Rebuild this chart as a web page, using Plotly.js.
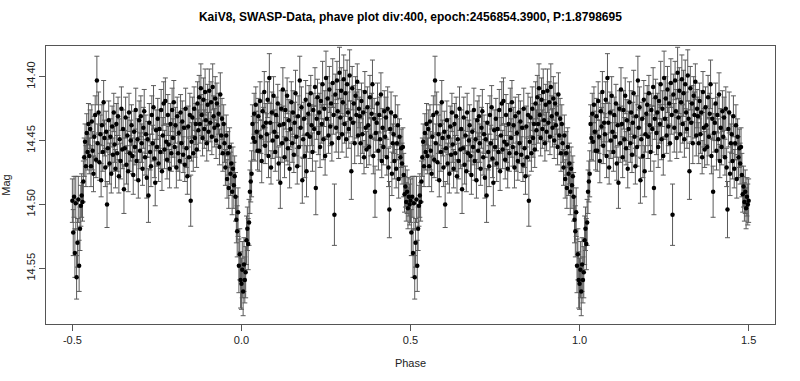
<!DOCTYPE html>
<html>
<head>
<meta charset="utf-8">
<script src="https://cdn.plot.ly/plotly-3.0.1.min.js"></script>
<style>html,body{margin:0;padding:0;background:#fff;}#chart{width:800px;height:381px;}</style>
</head>
<body>
<div id="chart"></div>
<script>
// Phase of each bin (one cycle, 0..1)
const phase = [
0.0000,0.0025,0.0050,0.0075,0.0100,0.0125,0.0150,0.0175,0.0200,0.0225,
0.0250,0.0275,0.0300,0.0325,0.0350,0.0375,0.0400,0.0425,0.0450,0.0475,
0.0500,0.0525,0.0550,0.0575,0.0600,0.0625,0.0650,0.0675,0.0700,0.0725,
0.0750,0.0775,0.0800,0.0825,0.0850,0.0875,0.0900,0.0925,0.0950,0.0975,
0.1000,0.1025,0.1050,0.1075,0.1100,0.1125,0.1150,0.1175,0.1200,0.1225,
0.1250,0.1275,0.1300,0.1325,0.1350,0.1375,0.1400,0.1425,0.1450,0.1475,
0.1500,0.1525,0.1550,0.1575,0.1600,0.1625,0.1650,0.1675,0.1700,0.1725,
0.1750,0.1775,0.1800,0.1825,0.1850,0.1875,0.1900,0.1925,0.1950,0.1975,
0.2000,0.2025,0.2050,0.2075,0.2100,0.2125,0.2150,0.2175,0.2200,0.2225,
0.2250,0.2275,0.2300,0.2325,0.2350,0.2375,0.2400,0.2425,0.2450,0.2475,
0.2500,0.2525,0.2550,0.2575,0.2600,0.2625,0.2650,0.2675,0.2700,0.2725,
0.2750,0.2775,0.2800,0.2825,0.2850,0.2875,0.2900,0.2925,0.2950,0.2975,
0.3000,0.3025,0.3050,0.3075,0.3100,0.3125,0.3150,0.3175,0.3200,0.3225,
0.3250,0.3275,0.3300,0.3325,0.3350,0.3375,0.3400,0.3425,0.3450,0.3475,
0.3500,0.3525,0.3550,0.3575,0.3600,0.3625,0.3650,0.3675,0.3700,0.3725,
0.3750,0.3775,0.3800,0.3825,0.3850,0.3875,0.3900,0.3925,0.3950,0.3975,
0.4000,0.4025,0.4050,0.4075,0.4100,0.4125,0.4150,0.4175,0.4200,0.4225,
0.4250,0.4275,0.4300,0.4325,0.4350,0.4375,0.4400,0.4425,0.4450,0.4475,
0.4500,0.4525,0.4550,0.4575,0.4600,0.4625,0.4650,0.4675,0.4700,0.4725,
0.4750,0.4775,0.4800,0.4825,0.4850,0.4875,0.4900,0.4925,0.4950,0.4975,
0.5000,0.5025,0.5050,0.5075,0.5100,0.5125,0.5150,0.5175,0.5200,0.5225,
0.5250,0.5275,0.5300,0.5325,0.5350,0.5375,0.5400,0.5425,0.5450,0.5475,
0.5500,0.5525,0.5550,0.5575,0.5600,0.5625,0.5650,0.5675,0.5700,0.5725,
0.5750,0.5775,0.5800,0.5825,0.5850,0.5875,0.5900,0.5925,0.5950,0.5975,
0.6000,0.6025,0.6050,0.6075,0.6100,0.6125,0.6150,0.6175,0.6200,0.6225,
0.6250,0.6275,0.6300,0.6325,0.6350,0.6375,0.6400,0.6425,0.6450,0.6475,
0.6500,0.6525,0.6550,0.6575,0.6600,0.6625,0.6650,0.6675,0.6700,0.6725,
0.6750,0.6775,0.6800,0.6825,0.6850,0.6875,0.6900,0.6925,0.6950,0.6975,
0.7000,0.7025,0.7050,0.7075,0.7100,0.7125,0.7150,0.7175,0.7200,0.7225,
0.7250,0.7275,0.7300,0.7325,0.7350,0.7375,0.7400,0.7425,0.7450,0.7475,
0.7500,0.7525,0.7550,0.7575,0.7600,0.7625,0.7650,0.7675,0.7700,0.7725,
0.7750,0.7775,0.7800,0.7825,0.7850,0.7875,0.7900,0.7925,0.7950,0.7975,
0.8000,0.8025,0.8050,0.8075,0.8100,0.8125,0.8150,0.8175,0.8200,0.8225,
0.8250,0.8275,0.8300,0.8325,0.8350,0.8375,0.8400,0.8425,0.8450,0.8475,
0.8500,0.8525,0.8550,0.8575,0.8600,0.8625,0.8650,0.8675,0.8700,0.8725,
0.8750,0.8775,0.8800,0.8825,0.8850,0.8875,0.8900,0.8925,0.8950,0.8975,
0.9000,0.9025,0.9050,0.9075,0.9100,0.9125,0.9150,0.9175,0.9200,0.9225,
0.9250,0.9275,0.9300,0.9325,0.9350,0.9375,0.9400,0.9425,0.9450,0.9475,
0.9500,0.9525,0.9550,0.9575,0.9600,0.9625,0.9650,0.9675,0.9700,0.9725,
0.9750,0.9775,0.9800,0.9825,0.9850,0.9875,0.9900,0.9925,0.9950,0.9975
];

// Mean magnitude per bin
const mag = [
14.562,14.551,14.568,14.547,14.559,14.553,14.528,14.519,14.531,14.514,
14.490,14.482,14.476,14.437,14.448,14.429,14.451,14.422,14.443,14.458,
14.431,14.458,14.419,14.447,14.466,14.427,14.439,14.412,14.454,14.436,
14.445,14.418,14.462,14.401,14.436,14.471,14.428,14.450,14.415,14.443,
14.459,14.430,14.447,14.421,14.468,14.438,14.483,14.425,14.452,14.410,
14.437,14.463,14.426,14.449,14.415,14.456,14.434,14.472,14.441,14.420,
14.452,14.428,14.461,14.436,14.413,14.447,14.470,14.431,14.455,14.403,
14.440,14.424,14.481,14.449,14.433,14.462,14.418,14.474,14.445,14.429,
14.422,14.447,14.413,14.438,14.459,14.426,14.441,14.408,14.487,14.433,
14.416,14.444,14.428,14.455,14.419,14.437,14.406,14.449,14.425,14.462,
14.401,14.433,14.417,14.446,14.410,14.439,14.421,14.452,14.405,14.430,
14.508,14.414,14.440,14.403,14.427,14.448,14.397,14.432,14.411,14.445,
14.420,14.402,14.437,14.413,14.449,14.406,14.428,14.441,14.399,14.433,
14.474,14.409,14.436,14.421,14.452,14.415,14.430,14.404,14.446,14.425,
14.431,14.452,14.419,14.445,14.428,14.463,14.412,14.440,14.457,14.424,
14.438,14.455,14.416,14.447,14.429,14.406,14.462,14.433,14.490,14.444,
14.436,14.421,14.458,14.430,14.449,14.414,14.466,14.440,14.455,14.427,
14.447,14.432,14.463,14.425,14.471,14.504,14.441,14.428,14.476,14.452,
14.445,14.466,14.431,14.472,14.452,14.438,14.480,14.447,14.463,14.456,
14.468,14.455,14.477,14.492,14.486,14.498,14.490,14.503,14.494,14.500,
14.497,14.522,14.494,14.538,14.499,14.557,14.530,14.496,14.548,14.519,
14.501,14.493,14.498,14.482,14.463,14.451,14.470,14.444,14.459,14.437,
14.462,14.441,14.470,14.435,14.458,14.476,14.447,14.430,14.465,14.403,
14.452,14.428,14.467,14.445,14.481,14.438,14.459,14.420,14.448,14.471,
14.443,14.500,14.456,14.434,14.468,14.447,14.476,14.439,14.461,14.428,
14.453,14.472,14.437,14.460,14.431,14.478,14.449,14.466,14.425,14.457,
14.441,14.488,14.456,14.432,14.469,14.446,14.474,14.428,14.460,14.450,
14.438,14.462,14.477,14.443,14.455,14.426,14.466,14.449,14.481,14.434,
14.458,14.431,14.452,14.472,14.440,14.427,14.463,14.445,14.479,14.449,
14.493,14.436,14.459,14.470,14.430,14.452,14.424,14.464,14.483,14.442,
14.455,14.433,14.468,14.441,14.459,14.426,14.474,14.446,14.421,14.457,
14.419,14.451,14.465,14.430,14.453,14.472,14.437,14.460,14.426,14.448,
14.420,14.455,14.438,14.471,14.431,14.460,14.444,14.466,14.428,14.452,
14.435,14.461,14.440,14.469,14.425,14.456,14.478,14.439,14.463,14.430,
14.497,14.451,14.432,14.460,14.425,14.448,14.437,14.457,14.421,14.442,
14.416,14.437,14.409,14.430,14.448,14.418,14.441,14.412,14.434,14.452,
14.422,14.443,14.411,14.436,14.420,14.447,14.408,14.431,14.440,14.417,
14.450,14.421,14.438,14.429,14.455,14.414,14.446,14.433,14.460,14.437,
14.452,14.471,14.446,14.480,14.460,14.487,14.455,14.476,14.468,14.490,
14.472,14.485,14.478,14.494,14.512,14.521,14.506,14.548,14.539,14.559
];

// Error (half length of error bar) per bin
const err = [
0.020,0.022,0.019,0.021,0.018,0.020,0.019,0.017,0.020,0.018,
0.017,0.016,0.018,0.015,0.017,0.016,0.015,0.014,0.016,0.015,
0.014,0.016,0.015,0.013,0.017,0.014,0.015,0.016,0.014,0.015,
0.016,0.014,0.017,0.019,0.015,0.013,0.016,0.014,0.015,0.017,
0.015,0.014,0.016,0.015,0.013,0.016,0.020,0.014,0.015,0.017,
0.014,0.016,0.015,0.017,0.014,0.013,0.016,0.015,0.014,0.016,
0.015,0.017,0.014,0.016,0.018,0.015,0.014,0.016,0.015,0.019,
0.014,0.016,0.018,0.015,0.013,0.017,0.015,0.020,0.014,0.016,
0.015,0.017,0.014,0.016,0.015,0.013,0.018,0.015,0.021,0.016,
0.014,0.017,0.015,0.016,0.014,0.015,0.018,0.016,0.014,0.015,
0.021,0.016,0.017,0.014,0.018,0.015,0.016,0.014,0.019,0.015,
0.024,0.016,0.019,0.015,0.017,0.016,0.020,0.015,0.018,0.014,
0.017,0.019,0.015,0.018,0.014,0.019,0.016,0.015,0.020,0.014,
0.022,0.017,0.015,0.014,0.016,0.015,0.018,0.014,0.016,0.015,
0.015,0.016,0.014,0.015,0.017,0.013,0.016,0.015,0.014,0.016,
0.015,0.014,0.017,0.015,0.016,0.019,0.014,0.016,0.020,0.015,
0.014,0.016,0.015,0.014,0.016,0.017,0.013,0.015,0.014,0.016,
0.015,0.016,0.014,0.017,0.015,0.022,0.014,0.016,0.017,0.015,
0.015,0.014,0.016,0.015,0.013,0.016,0.015,0.014,0.016,0.015,
0.016,0.015,0.017,0.014,0.016,0.015,0.017,0.016,0.015,0.016,
0.017,0.018,0.016,0.019,0.021,0.017,0.019,0.018,0.020,0.017,
0.016,0.017,0.015,0.016,0.015,0.014,0.016,0.015,0.014,0.016,
0.014,0.015,0.016,0.013,0.015,0.014,0.016,0.015,0.014,0.019,
0.015,0.016,0.014,0.015,0.013,0.016,0.015,0.017,0.014,0.015,
0.016,0.018,0.014,0.015,0.016,0.014,0.015,0.016,0.013,0.015,
0.014,0.015,0.016,0.014,0.015,0.013,0.016,0.014,0.017,0.015,
0.015,0.019,0.014,0.016,0.015,0.014,0.016,0.015,0.014,0.016,
0.016,0.014,0.015,0.016,0.014,0.017,0.015,0.016,0.014,0.015,
0.014,0.016,0.015,0.013,0.016,0.017,0.014,0.015,0.016,0.014,
0.021,0.015,0.014,0.016,0.015,0.014,0.017,0.015,0.018,0.016,
0.015,0.016,0.014,0.015,0.013,0.016,0.015,0.014,0.017,0.015,
0.018,0.014,0.015,0.016,0.014,0.015,0.016,0.014,0.017,0.015,
0.017,0.015,0.014,0.016,0.015,0.014,0.016,0.015,0.014,0.016,
0.016,0.014,0.015,0.013,0.016,0.015,0.014,0.016,0.015,0.017,
0.020,0.015,0.016,0.014,0.017,0.015,0.016,0.014,0.017,0.016,
0.017,0.015,0.019,0.016,0.014,0.017,0.015,0.018,0.016,0.014,
0.016,0.015,0.017,0.015,0.016,0.014,0.018,0.016,0.015,0.017,
0.014,0.016,0.015,0.016,0.014,0.017,0.015,0.016,0.014,0.015,
0.015,0.014,0.016,0.015,0.017,0.016,0.015,0.017,0.016,0.018,
0.017,0.018,0.016,0.019,0.018,0.020,0.019,0.021,0.020,0.022
];

const xTickVals = [-0.5, 0.0, 0.5, 1.0, 1.5];
const xTickText = ["-0.5", "0.0", "0.5", "1.0", "1.5"];
const yTickVals = [14.40, 14.45, 14.50, 14.55];
const yTickText = ["14.40", "14.45", "14.50", "14.55"];

// Phase plot shows the cycle folded over -0.5 .. 1.5
const xs = [], ys = [], es = [];
for (let i = 0; i < phase.length; i++) {
  if (phase[i] >= 0.5) { xs.push(phase[i] - 1); ys.push(mag[i]); es.push(err[i]); }
  xs.push(phase[i]); ys.push(mag[i]); es.push(err[i]);
  if (phase[i] <= 0.5) { xs.push(phase[i] + 1); ys.push(mag[i]); es.push(err[i]); }
}

const trace = {
  x: xs, y: ys, type: 'scatter', mode: 'markers',
  marker: {color: '#000', size: 4.5},
  error_y: {type: 'data', array: es, visible: true, color: '#5a5a5a', thickness: 1, width: 2.5},
  hoverinfo: 'skip'
};

const axisCommon = {
  showgrid: false, zeroline: false, showline: true, mirror: true,
  linecolor: '#555', linewidth: 1, ticks: 'outside', ticklen: 6, tickcolor: '#555',
  tickfont: {family: 'Liberation Sans, Arial, sans-serif', size: 11, color: '#222'}
};

const layout = {
  width: 800, height: 381,
  paper_bgcolor: '#fff', plot_bgcolor: '#fff',
  margin: {l: 46, r: 25, t: 46, b: 57},
  showlegend: false,
  title: {
    text: 'KaiV8, SWASP-Data, phave plot div:400, epoch:2456854.3900, P:1.8798695',
    font: {family: 'Liberation Sans, Arial, sans-serif', size: 12, color: '#000', weight: 'bold'},
    x: 0.513, xanchor: 'center', y: 0.955, yanchor: 'middle'
  },
  xaxis: Object.assign({}, axisCommon, {
    range: [-0.578, 1.578], tickmode: 'array', tickvals: xTickVals, ticktext: xTickText,
    title: {text: 'Phase', font: {family: 'Liberation Sans, Arial, sans-serif', size: 11, color: '#222'}, standoff: 14}
  }),
  yaxis: Object.assign({}, axisCommon, {
    range: [14.5935, 14.376], tickmode: 'array', tickvals: yTickVals, ticktext: yTickText,
    tickangle: -90,
    title: {text: 'Mag', font: {family: 'Liberation Sans, Arial, sans-serif', size: 11, color: '#222'}, standoff: 12}
  })
};

Plotly.newPlot('chart', [trace], layout, {displayModeBar: false, staticPlot: true});
</script>
</body>
</html>
